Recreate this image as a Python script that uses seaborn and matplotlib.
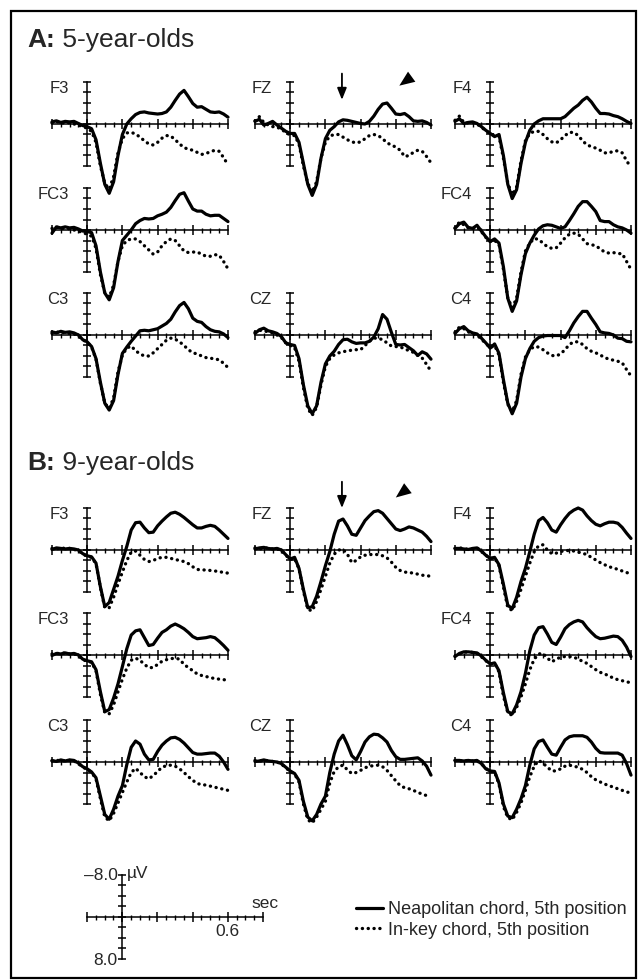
#!/usr/bin/env python3
import numpy as np
import matplotlib
matplotlib.use("Agg")
import matplotlib.pyplot as plt
from matplotlib.lines import Line2D
from matplotlib.patches import Rectangle
import seaborn as sns

# ERP grand averages, µV (negative up), sampled every 25 ms from -200 to 800 ms
TIMES_MS = [-200, -175, -150, -125, -100, -75, -50, -25, 0, 25, 50, 75, 100, 125, 150,
            175, 200, 225, 250, 275, 300, 325, 350, 375, 400, 425, 450, 475, 500, 525,
            550, 575, 600, 625, 650, 675, 700, 725, 750, 775, 800]

# --- A: 5-year-olds ---
A_F3_NEAP = [-0.4, -0.6, -0.3, -0.5, -0.4, -0.5, -0.1, 0.3, 0.5, 0.9, 3.0, 7.5, 11.5, 13.2, 11.0, 6.0, 2.0, 0.0, -1.0, -1.8, -2.2, -2.3, -2.1, -2.0, -1.9, -2.0, -2.3, -3.2, -4.5, -5.7, -6.4, -5.2, -3.9, -3.2, -3.3, -2.8, -2.3, -2.2, -2.3, -1.9, -1.3]
A_F3_INKEY = [-0.2, -0.5, -0.1, -0.3, -0.2, 0.0, 0.2, 0.5, 0.8, 1.4, 3.5, 8.0, 11.3, 12.4, 10.0, 5.5, 2.8, 1.7, 1.6, 1.9, 2.5, 3.2, 3.8, 4.0, 3.5, 2.7, 2.2, 2.3, 3.0, 3.8, 4.5, 4.8, 5.0, 5.4, 5.8, 5.6, 5.3, 5.0, 5.2, 6.4, 7.8]
A_FZ_NEAP = [-0.5, -0.9, 0.2, -0.1, -0.5, 0.2, 0.8, 1.4, 1.8, 1.8, 3.5, 7.5, 11.5, 13.6, 11.5, 6.5, 2.8, 1.2, 0.5, -0.4, -0.8, -0.7, -0.5, -0.3, -0.1, 0.0, -0.5, -1.5, -2.8, -3.8, -4.0, -3.0, -1.9, -1.8, -2.0, -1.4, -0.6, -0.5, -0.6, -0.3, 0.2]
A_FZ_INKEY = [-0.6, -1.4, -0.3, 0.2, 0.5, 0.6, 1.0, 1.6, 2.1, 2.2, 3.8, 8.0, 11.3, 13.0, 11.0, 6.5, 3.5, 2.3, 2.0, 2.0, 2.5, 3.0, 3.4, 3.6, 3.4, 2.8, 2.2, 2.0, 2.2, 2.8, 3.6, 4.0, 4.4, 5.0, 6.2, 6.0, 5.4, 5.0, 5.2, 6.2, 7.4]
A_F4_NEAP = [-0.5, -1.0, -0.1, -0.3, -0.4, -0.1, 0.5, 1.2, 1.8, 2.4, 2.0, 6.0, 11.5, 14.2, 12.5, 7.5, 3.5, 1.2, 0.0, -0.6, -1.0, -1.0, -1.0, -1.0, -1.0, -1.4, -2.2, -3.0, -3.6, -4.5, -5.1, -4.2, -3.0, -2.0, -2.0, -1.9, -1.6, -1.4, -1.0, -0.5, -0.1]
A_F4_INKEY = [-0.7, -1.5, -0.3, -0.2, -0.3, 0.0, 0.6, 1.3, 1.8, 2.2, 2.3, 6.5, 11.3, 13.5, 12.0, 7.0, 3.2, 1.8, 1.4, 1.4, 2.0, 2.8, 3.4, 3.6, 3.0, 2.2, 1.6, 1.6, 2.2, 3.2, 4.0, 4.3, 4.6, 5.0, 5.5, 5.5, 5.2, 5.1, 5.5, 7.0, 8.3]
A_FC3_NEAP = [0.6, -0.6, -0.4, -0.6, -0.4, -0.5, -0.2, 0.2, 0.3, 0.5, 3.0, 8.0, 12.0, 13.3, 11.0, 6.0, 2.0, 1.0, 0.0, -1.2, -1.8, -2.2, -2.1, -2.2, -2.7, -3.0, -3.4, -4.3, -5.6, -6.8, -7.1, -5.5, -4.0, -3.6, -3.6, -3.0, -2.7, -2.8, -2.8, -2.2, -1.6]
A_FC3_INKEY = [-0.3, -0.6, -0.2, -0.4, -0.2, 0.0, 0.2, 0.5, 0.8, 1.2, 3.5, 8.5, 12.0, 12.8, 10.5, 6.0, 3.0, 2.0, 1.7, 1.7, 2.2, 3.0, 3.8, 4.6, 4.2, 3.0, 2.2, 1.7, 2.0, 3.0, 4.0, 4.3, 4.2, 4.2, 4.6, 5.0, 5.0, 4.7, 4.8, 6.0, 7.4]
A_FC4_NEAP = [-0.3, -1.2, -1.5, -0.5, -0.3, -0.9, 0.2, 1.3, 2.2, 1.7, 2.5, 7.0, 13.0, 15.5, 13.5, 8.5, 4.5, 2.5, 1.0, -0.2, -0.8, -1.0, -0.9, -0.6, -0.3, -0.6, -1.8, -3.1, -4.5, -5.4, -5.4, -4.5, -3.5, -1.8, -1.6, -1.6, -1.0, -0.6, -0.4, 0.0, 0.6]
A_FC4_INKEY = [-0.4, -1.5, -1.0, -0.4, -0.3, -0.6, 0.3, 1.4, 2.2, 2.0, 2.7, 7.5, 13.0, 14.8, 13.0, 8.0, 4.0, 2.5, 1.6, 1.8, 2.5, 3.2, 3.5, 3.4, 2.5, 1.5, 0.8, 0.6, 0.8, 1.7, 2.6, 2.8, 3.0, 3.6, 4.2, 4.4, 4.3, 4.5, 4.5, 6.0, 7.5]
A_C3_NEAP = [-0.6, -0.4, -0.7, -0.5, -0.6, -0.4, 0.0, 0.9, 1.3, 2.2, 4.5, 9.0, 13.0, 14.3, 12.5, 7.5, 3.5, 2.3, 1.2, 0.2, -0.8, -0.9, -0.8, -1.0, -1.2, -1.7, -2.2, -3.0, -4.4, -5.6, -6.2, -5.0, -3.2, -2.6, -2.4, -1.6, -1.0, -0.7, -0.6, -0.2, 0.5]
A_C3_INKEY = [-0.3, -0.6, -0.4, -0.5, -0.3, -0.2, 0.2, 0.9, 1.4, 2.3, 4.6, 9.2, 13.0, 14.0, 12.0, 7.0, 3.8, 2.5, 2.1, 3.0, 3.6, 4.0, 4.0, 3.4, 2.6, 1.8, 1.0, 0.6, 0.8, 1.3, 2.0, 2.8, 3.4, 3.6, 4.0, 4.3, 4.4, 4.6, 4.7, 5.4, 6.2]
A_CZ_NEAP = [-0.3, -1.0, -1.3, -0.8, -0.6, -0.3, 0.3, 1.5, 1.8, 2.0, 4.5, 9.5, 13.5, 15.0, 13.5, 9.0, 5.5, 4.0, 3.1, 1.8, 0.9, 0.8, 1.3, 1.6, 1.5, 1.5, 1.2, 0.4, -1.2, -3.9, -3.0, -0.5, 1.8, 1.9, 1.8, 2.4, 3.0, 3.9, 3.2, 3.6, 4.6]
A_CZ_INKEY = [-0.5, -0.9, -0.8, -0.6, -0.4, 0.0, 0.5, 1.5, 2.0, 2.4, 5.0, 10.0, 14.0, 15.3, 13.8, 9.5, 6.0, 4.5, 3.8, 3.4, 3.2, 3.0, 2.9, 2.8, 2.8, 2.0, 1.2, 0.6, 0.6, 0.9, 1.5, 2.1, 2.2, 2.3, 2.6, 3.0, 3.3, 3.9, 4.4, 5.6, 6.9]
A_C4_NEAP = [-0.3, -1.2, -1.6, -0.8, -0.4, -0.2, 0.6, 1.5, 2.5, 1.7, 3.5, 8.5, 13.0, 15.0, 13.0, 8.0, 4.5, 2.6, 1.2, 0.5, 0.2, 0.1, 0.1, 0.1, 0.1, 0.5, -0.8, -2.3, -3.5, -4.5, -4.5, -3.2, -2.0, -0.6, -0.4, -0.3, 0.0, 0.6, 0.7, 1.2, 1.3]
A_C4_INKEY = [-0.5, -1.5, -1.2, -0.6, -0.2, 0.0, 0.8, 1.6, 2.4, 2.0, 3.8, 9.0, 13.2, 14.6, 12.5, 7.5, 4.2, 2.8, 2.2, 2.3, 2.8, 3.4, 3.9, 4.0, 3.6, 2.8, 1.8, 1.3, 1.3, 1.8, 2.6, 3.1, 3.4, 3.8, 4.3, 4.6, 4.8, 5.0, 5.3, 6.6, 7.8]

# --- B: 9-year-olds ---
B_F3_NEAP = [-0.1, -0.4, -0.3, -0.2, -0.3, -0.2, 0.0, 0.7, 1.1, 1.3, 2.5, 7.0, 10.8, 10.0, 7.5, 5.0, 2.0, -0.7, -3.8, -5.2, -5.3, -4.2, -3.3, -3.4, -4.6, -5.5, -6.3, -7.0, -7.2, -6.8, -6.2, -5.5, -4.8, -4.2, -4.2, -4.5, -4.7, -4.5, -3.8, -3.0, -2.2]
B_F3_INKEY = [-0.3, -0.2, -0.4, -0.3, -0.3, -0.1, 0.1, 0.8, 1.2, 1.4, 2.6, 7.2, 11.0, 11.0, 9.0, 6.5, 4.2, 2.0, 0.4, 0.2, 1.0, 1.8, 2.2, 2.0, 1.6, 1.4, 1.4, 1.6, 1.8, 2.0, 2.2, 2.6, 3.2, 3.7, 3.8, 3.8, 3.9, 4.0, 4.1, 4.3, 4.4]
B_FZ_NEAP = [-0.2, -0.4, -0.5, -0.3, -0.2, -0.3, 0.0, 0.9, 1.7, 1.4, 3.5, 7.5, 11.0, 10.8, 8.8, 6.0, 3.0, 0.3, -3.0, -5.5, -5.9, -4.6, -3.0, -2.8, -4.2, -5.6, -6.5, -7.3, -7.5, -7.0, -6.0, -5.0, -4.0, -3.7, -4.0, -4.4, -4.2, -3.8, -3.4, -2.6, -1.6]
B_FZ_INKEY = [-0.4, -0.2, -0.3, -0.4, -0.2, -0.2, 0.1, 1.0, 1.8, 1.6, 3.6, 7.8, 11.3, 11.6, 9.8, 7.5, 5.0, 2.5, 0.8, 0.0, -0.1, 0.8, 2.4, 2.0, 1.3, 1.0, 0.9, 0.8, 0.9, 1.1, 1.5, 2.3, 3.3, 3.9, 4.2, 4.3, 4.4, 4.6, 4.8, 4.9, 5.0]
B_F4_NEAP = [-0.3, -0.3, -0.2, -0.1, -0.3, -0.4, 0.2, 1.0, 1.6, 1.4, 2.8, 6.5, 10.5, 11.2, 9.0, 6.0, 3.5, 0.3, -3.0, -5.6, -6.2, -5.2, -3.8, -3.4, -4.8, -6.0, -7.0, -7.6, -8.0, -7.6, -6.5, -5.6, -4.9, -4.6, -5.0, -5.3, -5.3, -5.1, -4.3, -3.2, -2.2]
B_F4_INKEY = [-0.3, -0.4, -0.3, -0.1, -0.2, -0.4, 0.2, 1.0, 1.6, 1.5, 3.0, 7.0, 11.0, 11.5, 9.8, 7.5, 5.0, 2.5, 0.3, -0.8, -1.0, 0.0, 0.7, 0.6, 0.3, 0.1, 0.1, 0.2, 0.4, 0.6, 0.9, 1.4, 1.9, 2.4, 2.8, 3.2, 3.4, 3.7, 4.0, 4.3, 4.5]
B_FC3_NEAP = [0.1, -0.3, -0.2, -0.4, -0.2, -0.3, 0.0, 0.8, 1.1, 1.3, 2.8, 7.0, 10.8, 10.4, 8.2, 5.5, 2.2, -1.2, -3.8, -4.6, -4.8, -3.3, -1.8, -2.0, -3.2, -4.3, -4.8, -5.5, -5.9, -5.5, -5.0, -4.3, -3.5, -3.1, -3.2, -3.3, -3.5, -3.3, -2.6, -1.8, -0.9]
B_FC3_INKEY = [-0.2, -0.3, -0.3, -0.4, -0.2, -0.2, 0.1, 0.9, 1.2, 1.4, 3.0, 7.5, 11.0, 11.2, 9.5, 7.0, 4.6, 2.5, 1.0, 0.6, 1.0, 1.8, 2.4, 2.4, 1.8, 1.2, 0.9, 0.7, 0.6, 0.8, 1.8, 2.4, 3.0, 3.6, 3.9, 4.1, 4.3, 4.5, 4.6, 4.7, 4.8]
B_FC4_NEAP = [0.3, -0.3, -0.6, -0.6, -0.5, -0.4, 0.2, 1.0, 1.7, 1.5, 3.0, 7.2, 10.8, 11.2, 9.5, 7.0, 3.5, -0.8, -3.8, -5.2, -5.4, -4.0, -2.4, -2.0, -3.4, -5.0, -5.8, -6.3, -6.6, -6.3, -5.2, -4.3, -3.5, -3.1, -3.2, -3.4, -3.6, -3.5, -2.8, -1.5, 0.3]
B_FC4_INKEY = [0.2, -0.2, -0.5, -0.6, -0.5, -0.3, 0.3, 1.1, 1.7, 1.6, 3.2, 7.8, 11.0, 11.5, 10.0, 8.0, 5.5, 2.8, 0.8, -0.2, -0.3, 0.6, 1.3, 0.8, 0.4, 0.3, 0.3, 0.4, 0.8, 1.2, 1.6, 2.2, 2.8, 3.3, 3.6, 4.0, 4.4, 4.7, 4.9, 5.1, 5.3]
B_C3_NEAP = [-0.3, -0.1, -0.4, -0.2, -0.4, -0.3, 0.2, 0.9, 1.3, 1.9, 3.0, 6.5, 10.0, 10.9, 9.0, 6.5, 4.5, 0.5, -2.8, -4.0, -3.4, -1.5, -0.4, -0.5, -2.0, -3.2, -4.0, -4.6, -4.7, -4.3, -3.6, -2.7, -1.8, -1.5, -1.5, -1.6, -1.7, -1.7, -1.1, 0.0, 1.4]
B_C3_INKEY = [-0.2, -0.3, -0.3, -0.2, -0.3, -0.2, 0.3, 1.0, 1.4, 2.0, 3.2, 7.0, 10.5, 11.2, 9.8, 7.8, 5.8, 3.8, 2.0, 1.2, 2.0, 2.8, 3.2, 2.6, 1.8, 1.0, 0.7, 0.6, 0.8, 1.3, 2.0, 2.8, 3.5, 4.1, 4.3, 4.4, 4.6, 4.8, 5.0, 5.2, 5.4]
B_CZ_NEAP = [-0.1, -0.2, -0.4, -0.2, -0.1, 0.0, 0.3, 1.0, 1.7, 2.2, 3.5, 7.5, 10.5, 11.2, 10.0, 8.0, 6.5, 2.0, -1.5, -4.0, -5.1, -3.3, -1.2, -0.4, -2.0, -3.8, -4.8, -5.3, -5.2, -4.6, -3.8, -2.2, -1.0, -0.5, -0.5, -0.6, -0.7, -0.8, -0.2, 0.8, 2.5]
B_CZ_INKEY = [-0.3, -0.2, -0.2, -0.3, -0.1, 0.0, 0.4, 1.1, 1.8, 2.3, 3.8, 8.0, 11.0, 11.6, 10.5, 9.0, 7.5, 4.0, 1.8, 0.9, 0.6, 1.5, 2.2, 2.0, 1.6, 1.1, 0.8, 0.7, 0.6, 0.9, 1.6, 2.6, 3.6, 4.5, 4.9, 5.1, 5.4, 5.8, 6.1, 6.4, 6.6]
B_C4_NEAP = [-0.3, -0.3, -0.2, -0.3, -0.2, -0.3, 0.3, 1.3, 1.7, 1.8, 4.0, 8.0, 10.3, 10.6, 9.0, 7.0, 4.5, 0.6, -2.5, -3.9, -4.2, -2.8, -1.5, -1.3, -2.8, -4.2, -4.8, -5.0, -5.0, -5.0, -4.7, -3.8, -2.6, -1.8, -1.7, -1.7, -1.7, -1.7, -1.3, 0.3, 2.5]
B_C4_INKEY = [-0.3, -0.2, -0.2, -0.3, -0.2, -0.2, 0.3, 1.2, 1.8, 1.9, 4.2, 8.5, 10.6, 11.0, 9.6, 7.8, 5.4, 2.8, 0.8, -0.3, 0.2, 1.0, 1.7, 1.7, 1.3, 0.8, 0.6, 0.8, 1.0, 1.4, 2.0, 2.8, 3.4, 3.8, 4.2, 4.5, 4.8, 5.1, 5.4, 5.7, 5.9]

GROUP_TITLES = [("A:", "5-year-olds"), ("B:", "9-year-olds")]
LEGEND_LABELS = ["Neapolitan chord, 5th position", "In-key chord, 5th position"]

# electrode name, column, row, solid, dotted
PANELS_A = [
    ("F3", 0, 0, A_F3_NEAP, A_F3_INKEY), ("FZ", 1, 0, A_FZ_NEAP, A_FZ_INKEY), ("F4", 2, 0, A_F4_NEAP, A_F4_INKEY),
    ("FC3", 0, 1, A_FC3_NEAP, A_FC3_INKEY), ("FC4", 2, 1, A_FC4_NEAP, A_FC4_INKEY),
    ("C3", 0, 2, A_C3_NEAP, A_C3_INKEY), ("CZ", 1, 2, A_CZ_NEAP, A_CZ_INKEY), ("C4", 2, 2, A_C4_NEAP, A_C4_INKEY),
]
PANELS_B = [
    ("F3", 0, 0, B_F3_NEAP, B_F3_INKEY), ("FZ", 1, 0, B_FZ_NEAP, B_FZ_INKEY), ("F4", 2, 0, B_F4_NEAP, B_F4_INKEY),
    ("FC3", 0, 1, B_FC3_NEAP, B_FC3_INKEY), ("FC4", 2, 1, B_FC4_NEAP, B_FC4_INKEY),
    ("C3", 0, 2, B_C3_NEAP, B_C3_INKEY), ("CZ", 1, 2, B_CZ_NEAP, B_CZ_INKEY), ("C4", 2, 2, B_C4_NEAP, B_C4_INKEY),
]

# layout in pixels of the 638x980 canvas
W, H = 638, 980
COL_X = [52, 255, 455]                # pixel of t = -0.2 s
ROW_Y = {"A": [124, 230, 335], "B": [550, 655, 762]}   # pixel of 0 µV
PX_PER_S = 176
PX_PER_UV = 5.25
Y_TOP, Y_BOT = -10, 17                # µV range of each panel box (negative up)
DOTS = (0, (0.05, 1.7))

sns.set_style("white")
plt.rcParams["font.family"] = ["Liberation Sans", "DejaVu Sans"]

times = np.array(TIMES_MS) / 1000.0
fig = plt.figure(figsize=(W / 100, H / 100), dpi=100)


def make_axes(x_left, y_zero):
    top_px = y_zero + Y_TOP * PX_PER_UV
    bot_px = y_zero + Y_BOT * PX_PER_UV
    ax = fig.add_axes([x_left / W, 1 - bot_px / H, PX_PER_S / W, (bot_px - top_px) / H])
    ax.set_xlim(-0.2, 0.8)
    ax.set_ylim(Y_BOT, Y_TOP)
    ax.patch.set_visible(False)
    ax.grid(False)
    for s in ["top", "right"]:
        ax.spines[s].set_visible(False)
    ax.spines["left"].set_position(("data", 0))
    ax.spines["bottom"].set_position(("data", 0))
    ax.spines["left"].set_bounds(-8, 8)
    ax.spines["bottom"].set_bounds(-0.2, 0.8)
    for s in ["left", "bottom"]:
        ax.spines[s].set_linewidth(1.1)
        ax.spines[s].set_color("black")
    ax.set_xticks([-0.2, 0, 0.2, 0.4, 0.6, 0.8])
    ax.set_xticks(np.arange(-0.2, 0.81, 0.05), minor=True)
    ax.set_yticks([-8, -6, -4, -2, 0, 2, 4, 6, 8])
    ax.tick_params(axis="x", which="major", direction="inout", length=7.5, width=1.1,
                   color="black", labelbottom=False, bottom=True)
    ax.tick_params(axis="x", which="minor", direction="inout", length=3.6, width=1.0,
                   color="black", bottom=True)
    ax.tick_params(axis="y", direction="inout", length=5.5, width=1.1, color="black",
                   labelleft=False, left=True)
    ax.set_xlabel("")
    ax.set_ylabel("")
    return ax


def draw_group(key, panels):
    axes = {}
    for name, col, row, neap, inkey in panels:
        ax = make_axes(COL_X[col], ROW_Y[key][row])
        sns.lineplot(x=times, y=inkey, ax=ax, color="black", linewidth=2.4,
                     linestyle=DOTS, dash_capstyle="round",
                     estimator=None, clip_on=False)
        sns.lineplot(x=times, y=neap, ax=ax, color="black", linewidth=2.3,
                     estimator=None, clip_on=False)
        ax.set_xlabel("")
        ax.set_ylabel("")
        ax.text(-0.105, -6.8, name, ha="right", va="center", fontsize=12)
        axes[name] = ax
    return axes


axes_a = draw_group("A", PANELS_A)
axes_b = draw_group("B", PANELS_B)

# arrows on FZ: arrow at early positivity, arrowhead at later component
for ax, y0, y1, head_xy, head_from in [
    (axes_a["FZ"], -9.6, -4.6, (0.62, -7.3), (0.69, -9.0)),
    (axes_b["FZ"], -13.0, -8.0, (0.60, -10.0), (0.67, -11.8)),
]:
    ax.annotate("", xy=(0.294, y1), xytext=(0.294, y0), annotation_clip=False,
                arrowprops=dict(arrowstyle="-|>,head_length=0.7,head_width=0.28",
                                color="black", lw=1.3, shrinkA=0, shrinkB=0))
    ax.annotate("", xy=head_xy, xytext=head_from, annotation_clip=False,
                arrowprops=dict(arrowstyle="-|>,head_length=1.1,head_width=0.45",
                                color="black", lw=0, shrinkA=0, shrinkB=0))

# group titles
for (bold, rest), y_px in zip(GROUP_TITLES, [47, 470]):
    t1 = fig.text(27 / W, 1 - y_px / H, bold, fontsize=19, fontweight="bold", va="baseline")
    axes_a["F3"].annotate(" " + rest, xy=(1, 0), xycoords=t1, fontsize=19,
                          va="bottom", ha="left", annotation_clip=False)

# calibration axes
cal = make_axes(87, 917)
cal.text(-0.025, -8, "\u20138.0", ha="right", va="center", fontsize=12.5)
cal.text(0.025, -8.3, "\u00b5V", ha="left", va="center", fontsize=12.5)
cal.text(-0.025, 8.3, "8.0", ha="right", va="center", fontsize=12.5)
cal.text(0.81, -1.2, "sec", ha="center", va="bottom", fontsize=12.5)
cal.text(0.6, 1.3, "0.6", ha="center", va="top", fontsize=12.5)

# legend
handles = [Line2D([], [], color="black", lw=2.3),
           Line2D([], [], color="black", lw=2.4, linestyle=DOTS, dash_capstyle="round")]
fig.legend(handles, LEGEND_LABELS, loc="center left", bbox_to_anchor=(356 / W, 1 - 920 / H),
           frameon=False, fontsize=13, handlelength=1.5, handletextpad=0.3,
           labelspacing=0.2, borderpad=0, borderaxespad=0)

# frame
fig.add_artist(Rectangle((11 / W, 1 - 978 / H), 625 / W, 967 / H, transform=fig.transFigure,
                         fill=False, lw=1.6, ec="black"))

fig.savefig("out.png", dpi=100)
